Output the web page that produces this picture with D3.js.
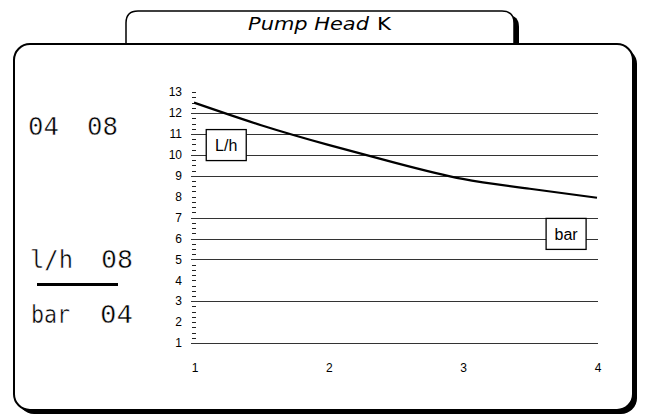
<!DOCTYPE html>
<html><head><meta charset="utf-8">
<script src="https://cdn.jsdelivr.net/npm/d3@7"></script>
<style>html,body{margin:0;padding:0;background:#fff}svg{display:block}</style>
</head><body>
<svg id="c" width="645" height="417"></svg>
<script>
// Data
const flowX = [1, 1.5, 2, 2.5, 3, 3.5, 4];
const headY = [12.5, 11.42, 10.48, 9.62, 8.85, 8.38, 7.95];
const xTicks = [1, 2, 3, 4];
const yTicks = [1,2,3,4,5,6,7,8,9,10,11,12,13];
const gridValues = [1,3,5,6,7,9,10,11,12];
const titleMain = "Pump Head";
const titleSuffix = "K";
const topValues = ["04", "08"];
const unitRows = [["l/h", "08"], ["bar", "04"]];
const curveLabels = [{t:"L/h", x:1.24, y:10.47}, {t:"bar", x:3.77, y:6.22}];

const svg = d3.select("#c");
const x = d3.scaleLinear().domain([1,4]).range([194,597]);
const y = d3.scaleLinear().domain([1,13]).range([343,92.2]);

// Tab
function tabPath(x0,y0,x1,y1,r){
  return `M${x0},${y1} L${x0},${y0+r} Q${x0},${y0} ${x0+r},${y0} L${x1-r},${y0} Q${x1},${y0} ${x1},${y0+r} L${x1},${y1} Z`;
}
svg.append("path").attr("d", tabPath(132,15,519,52,12)).attr("fill","#000");
svg.append("path").attr("d", tabPath(126,11,514,52,12)).attr("fill","#fff").attr("stroke","#000").attr("stroke-width",1.5);

// Frame
svg.append("rect").attr("x",18).attr("y",48).attr("width",619).attr("height",366).attr("rx",16).attr("fill","#000");
svg.append("rect").attr("x",14).attr("y",44).attr("width",619).attr("height",366).attr("rx",16).attr("fill","#fff").attr("stroke","#000").attr("stroke-width",2);

// Title
const tt = svg.append("text").attr("y",30).attr("font-family","DejaVu Sans, sans-serif").attr("font-size",17).attr("fill","#000");
tt.append("tspan").attr("x",248).attr("font-style","italic").attr("textLength",121).attr("lengthAdjust","spacingAndGlyphs").text(titleMain);
svg.append("text").attr("x",377).attr("y",30).attr("font-family","DejaVu Sans, sans-serif").attr("font-size",17).attr("textLength",14).attr("lengthAdjust","spacingAndGlyphs").text(titleSuffix);

// Left readouts
const mono = "DejaVu Sans Mono, monospace";
function readout(t, px, py, w){
  svg.append("text").attr("x",px).attr("y",py).attr("font-family",mono).attr("font-size",24)
    .attr("textLength",w).attr("lengthAdjust","spacingAndGlyphs").attr("fill","#000")
    .attr("stroke","#fff").attr("stroke-width",0.45).text(t);
}
readout(topValues[0], 28, 135, 31);
readout(topValues[1], 87, 135, 31);
readout(unitRows[0][0], 30, 268, 43);
readout(unitRows[0][1], 101, 268, 32);
svg.append("rect").attr("x",37).attr("y",283).attr("width",81).attr("height",3).attr("fill","#000");
readout(unitRows[1][0], 31, 323, 39);
readout(unitRows[1][1], 100, 323, 33);

// Gridlines
svg.append("g").selectAll("line").data(gridValues).join("line")
  .attr("x1",191).attr("x2",598).attr("y1",d=>Math.round(y(d))+0.5).attr("y2",d=>Math.round(y(d))+0.5)
  .attr("stroke","#333").attr("stroke-width",1);

// Minor ticks
const minor = [];
for (let v=1; v<=13.001; v+=0.25) minor.push(+v.toFixed(2));
svg.append("g").selectAll("line").data(minor.filter(v=>!gridValues.includes(v))).join("line")
  .attr("x1",192).attr("x2",196).attr("y1",d=>Math.round(y(d))+0.5).attr("y2",d=>Math.round(y(d))+0.5)
  .attr("stroke","#222").attr("stroke-width",1);

// Y axis labels
svg.append("g").selectAll("text").data(yTicks).join("text")
  .attr("x",182).attr("y",d=>y(d)).attr("dy","0.35em").attr("text-anchor","end")
  .attr("font-family","Liberation Sans, Arial, sans-serif").attr("font-size",12).attr("fill","#000").text(d=>d);

// X axis labels
svg.append("g").selectAll("text").data(xTicks).join("text")
  .attr("x",d=>x(d)+1).attr("y",372).attr("text-anchor","middle")
  .attr("font-family","Liberation Sans, Arial, sans-serif").attr("font-size",12).attr("fill","#000").text(d=>d);

// Curve
const pts = flowX.map((v,i)=>[v, headY[i]]);
svg.append("path").datum(pts)
  .attr("d", d3.line().x(d=>x(d[0])).y(d=>y(d[1])).curve(d3.curveNatural))
  .attr("fill","none").attr("stroke","#000").attr("stroke-width",2.2);

// Curve labels
curveLabels.forEach(l=>{
  const w=40, h=31;
  svg.append("rect").attr("x",x(l.x)-w/2).attr("y",y(l.y)-h/2).attr("width",w).attr("height",h)
    .attr("fill","#fff").attr("stroke","#000").attr("stroke-width",1.3);
  svg.append("text").attr("x",x(l.x)).attr("y",y(l.y)).attr("dy","0.36em").attr("text-anchor","middle")
    .attr("font-family","Liberation Sans, Arial, sans-serif").attr("font-size",16).attr("fill","#000").text(l.t);
});
</script>
</body></html>
